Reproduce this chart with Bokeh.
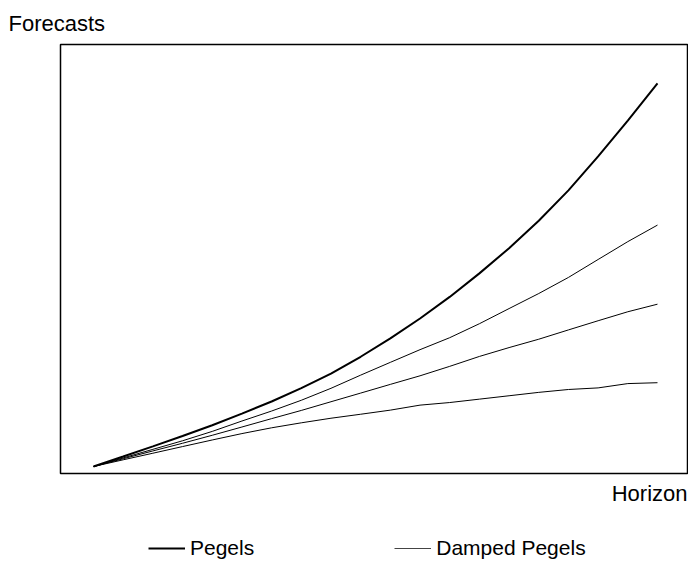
from bokeh.plotting import figure
from bokeh.models import Range1d, Title, Legend, LegendItem, ColumnDataSource
from bokeh.layouts import column
from bokeh.embed import file_html
from bokeh.resources import INLINE

horizon = list(range(1, 21))
pegels = [1.5, 4.0, 6.55, 9.15, 11.85, 14.75, 17.8, 21.15, 24.8, 29.0,
          33.6, 38.6, 44.0, 49.9, 56.2, 63.1, 70.7, 79.2, 88.2, 97.5]
damped_a = [1.5, 3.65, 5.8, 7.95, 10.3, 12.9, 15.4, 18.1, 21.1, 24.4,
            27.6, 30.78, 33.78, 37.28, 41.08, 44.85, 48.88, 53.38, 57.85, 62.0]
damped_b = [1.5, 3.45, 5.4, 7.33, 9.33, 11.4, 13.5, 15.55, 17.73, 19.9,
            22.08, 24.23, 26.6, 29.08, 31.3, 33.4, 35.73, 38.03, 40.28, 42.18]
damped_c = [1.5, 3.18, 4.83, 6.5, 8.15, 9.75, 11.2, 12.45, 13.6, 14.6,
            15.63, 16.88, 17.53, 18.38, 19.23, 20.08, 20.8, 21.2, 22.28, 22.5]
legend_labels = ["Pegels", "Damped Pegels"]

FONT = "Liberation Sans"

p = figure(width=688, height=515, output_backend="svg", toolbar_location=None,
           x_axis_location=None, y_axis_location=None,
           x_range=Range1d(-0.112, 21.011), y_range=Range1d(-0.25, 107.25),
           min_border_left=60, min_border_right=1, min_border_top=43,
           min_border_bottom=42, title=None)
p.grid.visible = False
p.outline_line_color = "black"
p.outline_line_width = 1.5
p.background_fill_color = "white"
p.border_fill_color = "white"

src = ColumnDataSource(dict(h=horizon, pg=pegels, a=damped_a, b=damped_b, c=damped_c))
p.line("h", "pg", source=src, line_color="black", line_width=2)
p.line("h", "a", source=src, line_color="black", line_width=1)
p.line("h", "b", source=src, line_color="black", line_width=1)
p.line("h", "c", source=src, line_color="black", line_width=1)

t1 = Title(text="Forecasts", align="left", offset=-52, text_font=FONT,
           text_font_size="22px", text_font_style="normal", text_color="black",
           standoff=17)
p.add_layout(t1, "above")

t2 = Title(text="Horizon", align="right", text_font=FONT,
           text_font_size="22px", text_font_style="normal", text_color="black",
           standoff=10)
p.add_layout(t2, "below")

# legend strip (its lines lie outside its visible ranges; only the legend shows)
lf = figure(width=688, height=55, output_backend="svg", toolbar_location=None,
            x_axis_location=None, y_axis_location=None,
            x_range=Range1d(100, 101), y_range=Range1d(1000, 1001),
            min_border_left=60, min_border_right=1, min_border_top=0,
            min_border_bottom=0, title=None)
lf.grid.visible = False
lf.outline_line_color = None
lf.background_fill_color = "white"
lf.border_fill_color = "white"
l1 = lf.line("h", "pg", source=src, line_color="black", line_width=2)
l2 = lf.line("h", "a", source=src, line_color="#444444", line_width=1)

legend = Legend(items=[LegendItem(label=legend_labels[0], renderers=[l1]),
                       LegendItem(label=legend_labels[1], renderers=[l2])],
                orientation="horizontal", location=(88, 10),
                label_text_font=FONT, label_text_font_size="21px",
                label_text_color="black",
                glyph_width=37, glyph_height=20, label_standoff=5, spacing=140,
                border_line_color=None, background_fill_alpha=0,
                margin=0, padding=0)
lf.add_layout(legend, "center")

layout = column(p, lf, spacing=0)
open("out.html", "w").write(file_html(layout, INLINE))
